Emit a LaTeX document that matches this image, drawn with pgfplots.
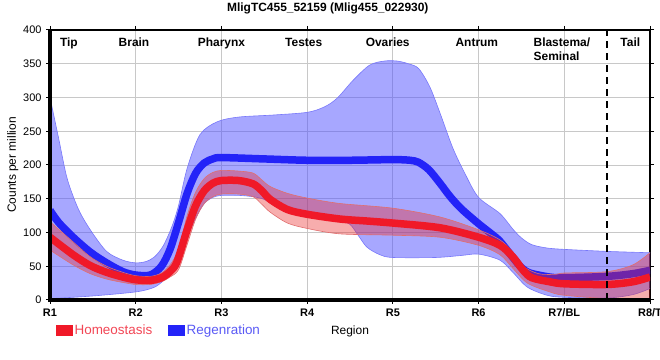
\documentclass[border=0pt]{standalone}
\usepackage{fontspec}
\setmainfont{Liberation Sans}
\usepackage{pgfplots}
\pgfplotsset{compat=1.18}
\usepgfplotslibrary{fillbetween}
\definecolor{bline}{RGB}{35,35,248}
\definecolor{bband}{RGB}{80,80,255}
\definecolor{bedge}{RGB}{120,120,250}
\definecolor{rline}{RGB}{240,25,40}
\definecolor{rband}{RGB}{235,40,40}
\definecolor{redge}{RGB}{225,110,110}
\definecolor{rtext}{RGB}{242,70,85}
\definecolor{btext}{RGB}{90,90,245}
\definecolor{gridc}{RGB}{200,200,200}
\begin{document}
\begin{tikzpicture}
\begin{axis}[
  name=ax,
  at={(50bp,60bp)}, anchor=south west,
  scale only axis, width=600bp, height=270bp,
  xmin=0, xmax=7, ymin=0, ymax=400,
  xtick={0,1,2,3,4,5,6,7},
  xticklabels={R1,R2,R3,R4,R5,R6,R7/BL,R8/T},
  ytick={0,50,...,400},
  grid=major, grid style={draw=gridc, line width=0.9bp},
  axis line style={line width=1.2bp, black},
  tick align=outside, major tick length=4bp,
  tick style={black, line width=1bp},
  /pgf/number format/assume math mode=true,
  yticklabel style={font=\fontsize{11}{13}\selectfont, xshift=-1bp},
  xticklabel style={font=\bfseries\fontsize{11}{13}\selectfont, yshift=-1bp},
  xlabel={Region},
  xlabel style={at={(axis description cs:0.5,-0.118)}, anchor=center, font=\fontsize{12}{14}\selectfont},
  ylabel={Counts per million},
  ylabel style={at={(axis description cs:-0.062,0.5)}, anchor=center, font=\fontsize{12}{14}\selectfont},
  title={MligTC455\_52159 (Mlig455\_022930)},
  title style={at={(axis description cs:0.463,1)}, anchor=base, yshift=13bp, font=\bfseries\fontsize{12}{14}\selectfont},
  legend style={at={(axis description cs:0.01,-0.111)}, anchor=west, draw=none, fill=none,
    legend columns=2, font=\fontsize{13.5}{15}\selectfont, inner sep=0pt,
    /tikz/every even column/.append style={column sep=14bp}},
  legend cell align=left,
]
% ---- Regeneration band ----
\addplot[draw=bedge, line width=0.6bp, smooth, name path=bu, forget plot] coordinates {
(0,300)(0.1,240)(0.2,180)(0.33,135)(0.47,104)(0.66,72)(0.85,59)(1.0,55)(1.12,57)(1.22,64)(1.32,80)(1.42,108)(1.5,140)(1.6,195)(1.75,245)(1.95,264)(2.2,271)(2.6,274)(3.0,278)(3.2,286)(3.35,299)(3.54,326)(3.73,348)(3.9,354)(4.05,354)(4.18,350)(4.3,343)(4.43,316)(4.55,277)(4.7,225)(4.85,185)(5.0,152)(5.25,128)(5.4,105)(5.5,92)(5.62,82)(5.8,77)(6.0,75)(6.5,72)(7.0,70)};
\addplot[draw=bedge, line width=0.6bp, smooth, name path=bl, forget plot] coordinates {
(0,2)(0.5,6)(1.0,12)(1.2,18)(1.3,26)(1.4,40)(1.5,62)(1.6,92)(1.7,122)(1.8,143)(1.9,152)(2.0,155)(2.2,155)(2.37,153)(2.5,149)(2.6,141)(2.77,130)(3.0,124)(3.38,117)(3.5,112)(3.6,95)(3.7,78)(3.85,67)(4.0,63)(4.5,63)(4.8,66)(5.0,68)(5.25,59)(5.4,41)(5.57,19)(5.8,7)(6.0,4)(6.5,3)(6.8,8)(7.0,17)};
\addplot[fill=bband, fill opacity=0.5, draw=none, forget plot] fill between[of=bu and bl];
% ---- Regeneration mean ----
\addplot[bline, line width=7.5bp, smooth, forget plot] coordinates {
(0,133)(0.1,115)(0.27,93)(0.47,71)(0.66,55)(0.85,42)(1.0,37)(1.17,37)(1.3,50)(1.4,75)(1.5,115)(1.6,158)(1.7,188)(1.8,203)(1.9,209)(2.0,211)(2.5,209)(3.0,207)(3.5,207)(4.0,208)(4.2,207)(4.3,204)(4.42,193)(4.55,173)(4.67,153)(4.8,135)(5.0,113)(5.15,98)(5.25,87)(5.4,63)(5.5,48)(5.6,40)(5.83,34)(6.0,33)(6.5,35)(6.8,39)(7.0,44)};
% ---- Homeostasis band (upper edge, then lower edge reversed) ----
\addplot[fill=rband, fill opacity=0.38, draw=none, smooth, forget plot] coordinates {
(-0.1,125)(0,116)(0.27,86)(0.47,64)(0.66,50)(0.85,41)(1.0,36)(1.17,35)(1.3,40)(1.4,52)(1.5,75)(1.6,125)(1.7,160)(1.8,180)(1.9,189)(2.0,192)(2.2,191)(2.37,188)(2.47,178)(2.57,168)(2.77,158)(3.0,151)(3.38,143)(4.0,136)(4.55,123)(5.0,104)(5.25,89)(5.4,71)(5.52,50)(5.7,39)(5.9,38)(6.0,40)(6.5,42)(6.8,52)(7.0,70)(7.1,80)
(7.1,-5)(7.0,0)(6.5,2)(6.0,7)(5.83,12)(5.57,25)(5.4,47)(5.25,67)(5.0,81)(4.55,93)(4.0,96)(3.38,98)(3.0,106)(2.77,114)(2.57,130)(2.47,142)(2.37,153)(2.2,157)(2.0,157)(1.9,153)(1.8,143)(1.7,120)(1.6,82)(1.5,45)(1.4,34)(1.3,27)(1.17,23)(1.0,23)(0.85,26)(0.66,31)(0.47,39)(0.27,52)(0,74)(-0.1,82)} -- cycle;
\addplot[draw=redge, line width=0.6bp, smooth, forget plot] coordinates {
(0,116)(0.27,86)(0.47,64)(0.66,50)(0.85,41)(1.0,36)(1.17,35)(1.3,40)(1.4,52)(1.5,75)(1.6,125)(1.7,160)(1.8,180)(1.9,189)(2.0,192)(2.2,191)(2.37,188)(2.47,178)(2.57,168)(2.77,158)(3.0,151)(3.38,143)(4.0,136)(4.55,123)(5.0,104)(5.25,89)(5.4,71)(5.52,50)(5.7,39)(5.9,38)(6.0,40)(6.5,42)(6.8,52)(7.0,70)};
\addplot[draw=redge, line width=0.6bp, smooth, forget plot] coordinates {
(0,74)(0.27,52)(0.47,39)(0.66,31)(0.85,26)(1.0,23)(1.17,23)(1.3,27)(1.4,34)(1.5,45)(1.6,82)(1.7,120)(1.8,143)(1.9,153)(2.0,157)(2.2,157)(2.37,153)(2.47,142)(2.57,130)(2.77,114)(3.0,106)(3.38,98)(4.0,96)(4.55,93)(5.0,81)(5.25,67)(5.4,47)(5.57,25)(5.83,12)(6.0,7)(6.5,2)(7.0,0)};
% ---- Homeostasis mean ----
\addplot[rline, line width=7.5bp, smooth, forget plot] coordinates {
(0,93)(0.27,67)(0.47,51)(0.66,41)(0.85,34)(1.0,30)(1.17,29)(1.3,33)(1.4,42)(1.48,56)(1.6,104)(1.7,140)(1.8,162)(1.9,173)(2.0,177)(2.2,177)(2.37,172)(2.47,162)(2.57,149)(2.77,134)(3.0,127)(3.38,120)(3.7,117)(4.0,114)(4.55,107)(5.0,93)(5.25,81)(5.4,64)(5.52,44)(5.62,33)(5.83,27)(6.0,24)(6.5,23)(6.8,27)(7.0,34)};
% ---- divider ----
\addplot[black, line width=2.6bp, dash pattern=on 7bp off 5bp, forget plot] coordinates {(6.5,0)(6.5,400)};
% ---- legend ----
\addlegendimage{legend image code/.code={\fill[rline] (0bp,-5bp) rectangle (16bp,5bp);}}
\addlegendentry{\textcolor{rtext}{Homeostasis}}
\addlegendimage{legend image code/.code={\fill[bline] (0bp,-5bp) rectangle (16bp,5bp);}}
\addlegendentry{\textcolor{btext}{Regenration}}
% ---- region labels ----
\begin{scope}[every node/.style={font=\bfseries\fontsize{12}{14}\selectfont, inner sep=0pt}]
\node[anchor=base] at (axis cs:0.22,376) {Tip};
\node[anchor=base] at (axis cs:0.98,376) {Brain};
\node[anchor=base] at (axis cs:2.0,376) {Pharynx};
\node[anchor=base] at (axis cs:2.96,376) {Testes};
\node[anchor=base] at (axis cs:3.94,376) {Ovaries};
\node[anchor=base] at (axis cs:4.98,376) {Antrum};
\node[anchor=base west] at (axis cs:5.64,376) {Blastema/};
\node[anchor=base west] at (axis cs:5.64,355) {Seminal};
\node[anchor=base] at (axis cs:6.77,376) {Tail};
\end{scope}
\end{axis}
\draw[line width=3.2bp, black] ([yshift=0.9bp]ax.north west) -- (ax.south west) -- ([xshift=0.9bp]ax.south east);
\pgfresetboundingbox
\useasboundingbox (0,0) rectangle (660bp,360bp);
\end{tikzpicture}
\end{document}
